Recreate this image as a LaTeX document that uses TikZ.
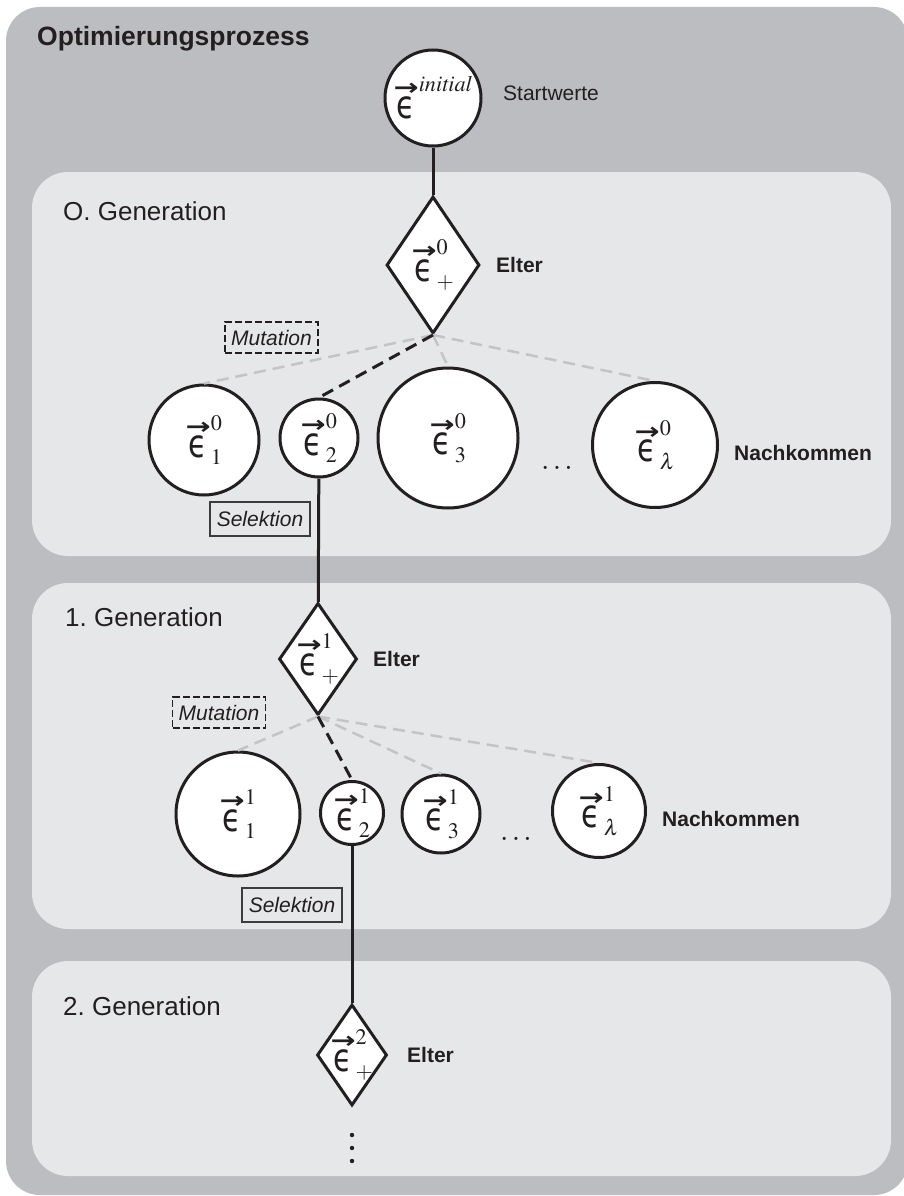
\documentclass[tikz,border=0pt]{standalone}
\usepackage{mathptmx}
\usepackage[no-math]{fontspec}
\setmainfont{Liberation Sans}
\newfontfamily\epsfont{DejaVu Sans}
\newfontfamily\arrfont{DejaVu Sans Bold}
\usepackage{graphicx}
\usetikzlibrary{shapes.geometric}
\frenchspacing
\definecolor{ink}{HTML}{231F20}
\definecolor{outergray}{HTML}{BCBDC0}
\definecolor{panelgray}{HTML}{E6E7E8}
\definecolor{lgray}{HTML}{C3C4C6}
\definecolor{selgray}{HTML}{3C3C3C}
\newcommand\ve{\mathord{\vbox{\offinterlineskip\halign{\hfil##\hfil\cr\hbox{\scalebox{1.5}[1.15]{\arrfont\fontsize{20}{20}\selectfont →}}\cr\noalign{\kern 1pt}\hbox{\scalebox{0.92}[1.18]{\epsfont\fontsize{33}{33}\selectfont ϵ}}\cr}}}}
\begin{document}
\begin{tikzpicture}[x=1pt,y=-1pt,
  lbl/.style={font=\fontsize{21}{24}\selectfont, text=ink, inner sep=0, anchor=west},
  boldlbl/.style={lbl, font=\fontsize{21}{24}\selectfont\bfseries},
  genlbl/.style={font=\fontsize{26}{30}\selectfont, text=ink, inner sep=0, anchor=base west},
  ring/.style={circle, draw=ink, fill=white, line width=3, inner sep=0, text=ink, font=\fontsize{30}{32}\selectfont},
  dia/.style={diamond, draw=ink, fill=white, line width=3, inner sep=0},
  mathtxt/.style={inner sep=0, text=ink, font=\fontsize{30}{32}\selectfont},
  solidlink/.style={draw=ink, line width=3},
  graylink/.style={draw=lgray, line width=2.5, dash pattern=on 12 off 7},
  blacklink/.style={draw=ink, line width=3, dash pattern=on 12 off 7},
  mutbox/.style={draw=ink, line width=1.3, dash pattern=on 7 off 3, inner sep=0, font=\fontsize{21}{24}\selectfont\itshape, text=ink, minimum width=93, minimum height=31},
  selbox/.style={draw=selgray, line width=1.5, inner sep=0, font=\fontsize{21}{24}\selectfont\itshape, text=ink, minimum width=100, minimum height=34},
  panel/.style={fill=panelgray, rounded corners=36}
]
\useasboundingbox (0,0) rectangle (903,1196);
\fill[white] (0,0) rectangle (903,1196);
\fill[outergray, rounded corners=34] (6,7) rectangle (908,1195);
\fill[panel] (32,172) rectangle (891,556);
\fill[panel] (32,583) rectangle (891,929);
\fill[panel] (32,961) rectangle (891,1176);

% titles
\node[genlbl, font=\fontsize{26.5}{30}\selectfont\bfseries] (title) at (37,46) {Optimierungsprozess};
\node[genlbl] (g0) at (63,220) {O. Generation};
\node[genlbl] (g1) at (65,626) {1. Generation};
\node[genlbl] (g2) at (63,1015) {2. Generation};

% initial
\node[ring, minimum size=96] (init) at (433,98) {$\ve^{\mathit{initial}}$};
\node[lbl] (start) at (503,93) {Startwerte};

% generation 0
\node[dia, minimum width=93, minimum height=137] (d0) at (433,265) {};
\node[mathtxt] (d0t) at (d0) {$\ve^{0}_{+}$};
\node[boldlbl] (e0) at (496,265) {Elter};
\node[ring, minimum size=110] (c01) at (204,440) {$\ve^{0}_{1}$};
\node[ring, minimum size=78] (c02) at (319,438) {$\ve^{0}_{2}$};
\node[ring, minimum size=140] (c03) at (448,438) {$\ve^{0}_{3}$};
\node[ring, minimum size=125] (c0l) at (655,445) {$\ve^{0}_{\lambda}$};
\node[mathtxt, anchor=base] (dots0) at (557,469) {$\ldots$};
\node[boldlbl] (n0) at (734,453) {Nachkommen};
\node[mutbox] (m0) at (271.5,337.5) {Mutation};
\node[selbox] (s0) at (260,519) {Selektion};

% generation 1
\node[dia, minimum width=78, minimum height=112] (d1) at (318,659) {};
\node[mathtxt] (d1t) at (d1) {$\ve^{1}_{+}$};
\node[boldlbl] (e1) at (373,659) {Elter};
\node[ring, minimum size=124] (c11) at (238,814) {$\ve^{1}_{1}$};
\node[ring, minimum size=63] (c12) at (352,813) {$\ve^{1}_{2}$};
\node[ring, minimum size=78] (c13) at (441,814) {$\ve^{1}_{3}$};
\node[ring, minimum size=93] (c1l) at (599,811) {$\ve^{1}_{\lambda}$};
\node[mathtxt, anchor=base] (dots1) at (516,840) {$\ldots$};
\node[boldlbl] (n1) at (662,819) {Nachkommen};
\node[mutbox] (m1) at (219,712.5) {Mutation};
\node[selbox] (s1) at (292,905) {Selektion};

% generation 2
\node[dia, minimum width=70, minimum height=101] (d2) at (352,1055) {};
\node[mathtxt] (d2t) at (d2) {$\ve^{2}_{+}$};
\node[boldlbl] (e2) at (407,1055) {Elter};
\fill[ink] (352,1135) circle (2.2);
\fill[ink] (352,1148) circle (2.2);
\fill[ink] (352,1161) circle (2.2);

% connectors
\draw[solidlink] (init) -- (d0);
\draw[graylink] (d0.south) -- (c01.north);
\draw[graylink] (d0.south) -- (c03.north);
\draw[graylink] (d0.south) -- (c0l.north);
\draw[blacklink] (d0.south) -- (c02.north);
\draw[solidlink] (c02) -- (d1);
\draw[graylink] (d1.south) -- (c11.north);
\draw[graylink] (d1.south) -- (c13.north);
\draw[graylink] (d1.south) -- (c1l.north);
\draw[blacklink] (d1.south) -- (c12.north);
\draw[solidlink] (c12) -- (d2);
\end{tikzpicture}
\end{document}
